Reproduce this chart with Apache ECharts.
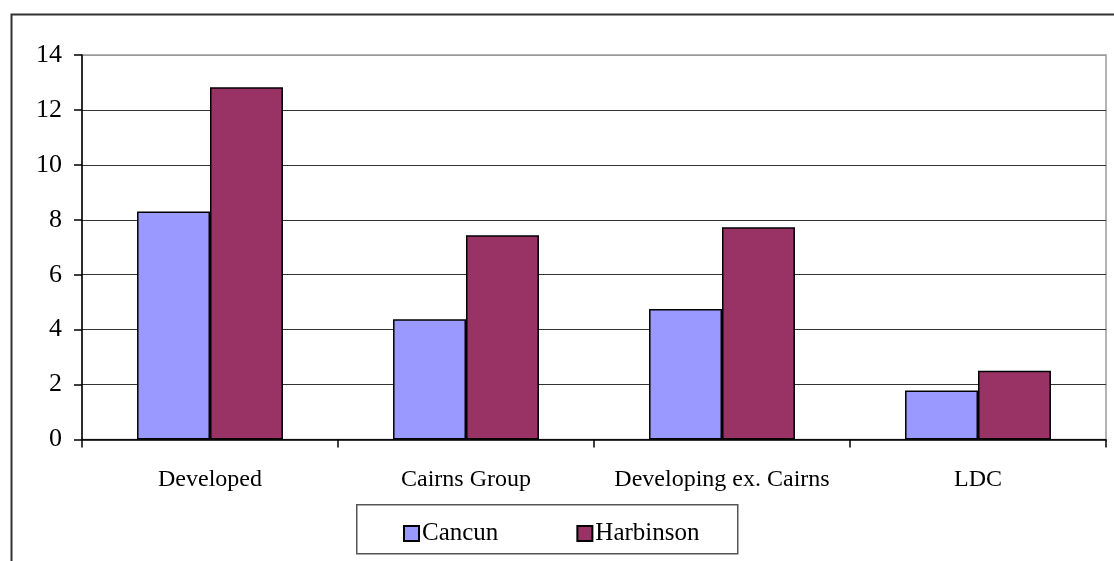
<!DOCTYPE html>
<html>
<head>
<meta charset="utf-8">
<script src="https://cdn.jsdelivr.net/npm/echarts@6/dist/echarts.min.js"></script>
<style>
  html, body { margin: 0; padding: 0; background: #fff; }
  #chart { width: 1114px; height: 561px; }
</style>
</head>
<body>
<div id="chart"></div>
<script>
// values
var categories = ['Developed', 'Cairns Group', 'Developing ex. Cairns', 'LDC'];
var cancun = [8.3, 4.38, 4.75, 1.78];
var harbinson = [12.83, 7.44, 7.73, 2.5];
var seriesNames = ['Cancun', 'Harbinson'];

var font = '"Liberation Serif", "DejaVu Serif", serif';

var chart = echarts.init(document.getElementById('chart'));
chart.setOption({
  animation: false,
  backgroundColor: '#fff',
  textStyle: { fontFamily: font },
  graphic: [
    { // outer frame, runs off the right and bottom edges
      type: 'rect', left: 9, top: 12, z: -10,
      shape: { width: 1200, height: 600 },
      style: { fill: 'none', stroke: '#333', lineWidth: 2 }
    },
    { // legend box
      type: 'rect', left: 356, top: 504, z: 5,
      shape: { width: 381, height: 49 },
      style: { fill: '#fff', stroke: '#555', lineWidth: 1.5 }
    }
  ],
  grid: {
    left: 82, right: 8, top: 55, bottom: 121.5,
    show: true, borderColor: '#999', borderWidth: 1.5
  },
  legend: {
    data: seriesNames,
    left: 398, top: 516, z: 10,
    icon: 'rect', itemWidth: 15, itemHeight: 15, itemGap: 78,
    textStyle: { fontFamily: font, fontSize: 25, color: '#000', padding: [0, 0, 0, -2] }
  },
  xAxis: {
    type: 'category',
    data: categories,
    axisLine: { lineStyle: { color: '#000', width: 1.5 } },
    axisTick: { show: true, length: 8, lineStyle: { color: '#000', width: 1.5 } },
    axisLabel: { fontFamily: font, fontSize: 24, color: '#000', margin: 28, interval: 0 }
  },
  yAxis: {
    type: 'value',
    min: 0, max: 14, interval: 2,
    axisLine: { show: true, lineStyle: { color: '#000', width: 1.5 } },
    axisTick: { show: true, length: 8, lineStyle: { color: '#000', width: 1.5 } },
    axisLabel: { fontFamily: font, fontSize: 26, color: '#000', margin: 20 },
    splitLine: { lineStyle: { color: ['#333', '#333', '#333', '#333', '#333', '#333', '#333', '#999'], width: 1.2 } }
  },
  series: [
    {
      name: seriesNames[0], type: 'bar', data: cancun,
      barGap: 0, barCategoryGap: '43%',
      itemStyle: { color: '#9999FF', borderColor: '#000', borderWidth: 1.5 }
    },
    {
      name: seriesNames[1], type: 'bar', data: harbinson,
      itemStyle: { color: '#993366', borderColor: '#000', borderWidth: 1.5 }
    }
  ]
});
</script>
</body>
</html>
